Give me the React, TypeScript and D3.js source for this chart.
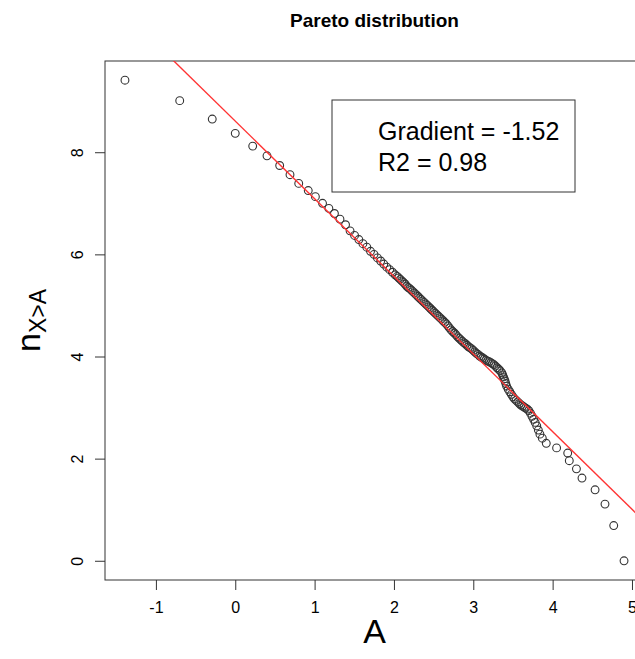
import React, { useEffect, useRef } from 'react';
import * as d3 from 'd3';

// log(A) and log(number of X > A)
const lnA = [
  -1.39, -0.7, -0.29, 0.0, 0.22, 0.4, 0.56, 0.69, 0.8, 0.92, 1.01, 1.1, 1.18, 1.25, 1.32, 1.39,
  1.447, 1.504, 1.558, 1.609, 1.658, 1.705, 1.749, 1.792, 1.833, 1.872, 1.91, 1.946, 1.981, 2.015,
  2.04, 2.06, 2.08, 2.1, 2.12, 2.14, 2.16, 2.18, 2.2, 2.22, 2.24, 2.26, 2.28, 2.3, 2.32, 2.34,
  2.36, 2.38, 2.4, 2.42, 2.44, 2.46, 2.48, 2.5, 2.52, 2.54, 2.56, 2.58, 2.6, 2.62, 2.64, 2.66,
  2.68, 2.7, 2.72, 2.74, 2.76, 2.78, 2.8, 2.82, 2.84, 2.86, 2.88, 2.9, 2.92, 2.94, 2.96, 2.98,
  3.0, 3.02, 3.04, 3.06, 3.08, 3.1, 3.12, 3.14, 3.16, 3.18, 3.2, 3.22, 3.24, 3.26, 3.28, 3.3,
  3.32, 3.34, 3.36, 3.37, 3.38, 3.39, 3.4, 3.41, 3.42, 3.44, 3.46, 3.48, 3.5, 3.52, 3.54, 3.56,
  3.58, 3.6, 3.62, 3.64, 3.66, 3.68, 3.7, 3.72, 3.74, 3.76, 3.78, 3.8, 3.82, 3.84, 3.87, 3.92,
  4.05, 4.19, 4.21, 4.3, 4.37, 4.535, 4.66, 4.77, 4.9,
];
const lnN = [
  9.41, 9.01, 8.65, 8.37, 8.12, 7.93, 7.74, 7.56, 7.39, 7.25, 7.13, 7.0, 6.9, 6.8, 6.69, 6.58,
  6.46, 6.37, 6.29, 6.21, 6.14, 6.06, 6.0, 5.93, 5.87, 5.81, 5.75, 5.7, 5.65, 5.6,
  5.57, 5.54, 5.51, 5.48, 5.45, 5.42, 5.38, 5.35, 5.33, 5.3, 5.27, 5.24, 5.21, 5.18, 5.15, 5.12,
  5.09, 5.06, 5.03, 5.0, 4.97, 4.94, 4.91, 4.88, 4.85, 4.82, 4.79, 4.76, 4.73, 4.7, 4.67, 4.64,
  4.6, 4.56, 4.52, 4.49, 4.46, 4.43, 4.39, 4.36, 4.33, 4.3, 4.27, 4.25, 4.22, 4.19, 4.17, 4.15,
  4.12, 4.09, 4.06, 4.04, 4.01, 3.99, 3.97, 3.95, 3.93, 3.91, 3.9, 3.88, 3.86, 3.84, 3.81, 3.78,
  3.75, 3.72, 3.68, 3.64, 3.6, 3.56, 3.52, 3.47, 3.42, 3.36, 3.31, 3.26, 3.21, 3.17, 3.14, 3.11,
  3.08, 3.05, 3.03, 3.01, 2.99, 2.97, 2.94, 2.89, 2.83, 2.77, 2.71, 2.64, 2.56, 2.48, 2.4, 2.3,
  2.21, 2.11, 1.96, 1.8, 1.62, 1.39, 1.11, 0.69, 0.0,
];

const xTicks = [-1, 0, 1, 2, 3, 4, 5];
const yTicks = [0, 2, 4, 6, 8];

// fitted line
const fitSlope = -1.52;
const fitIntercept = 8.61;
const legendLines = ['Gradient = -1.52', 'R2 = 0.98'];

const width = 635;
const height = 659;
const plot = { left: 105, right: 644, top: 61, bottom: 580 };
const font = '"Liberation Sans", Arial, Helvetica, sans-serif';

// R style axis range: data range plus 4% on each side
const padded = (v: number[]) => {
  const [lo, hi] = d3.extent(v) as [number, number];
  const p = (hi - lo) * 0.04;
  return [lo - p, hi + p];
};

const ParetoPlot = () => {
  const ref = useRef<SVGSVGElement>(null);

  useEffect(() => {
    const svg = d3.select(ref.current);
    svg.selectAll('*').remove();

    const x = d3.scaleLinear().domain(padded(lnA)).range([plot.left, plot.right]);
    const y = d3.scaleLinear().domain(padded(lnN)).range([plot.bottom, plot.top]);

    svg
      .append('defs')
      .append('clipPath')
      .attr('id', 'plot-clip')
      .append('rect')
      .attr('x', plot.left)
      .attr('y', plot.top)
      .attr('width', plot.right - plot.left)
      .attr('height', plot.bottom - plot.top);

    // title
    svg
      .append('text')
      .attr('x', (plot.left + plot.right) / 2)
      .attr('y', 27)
      .attr('text-anchor', 'middle')
      .style('font-family', font)
      .style('font-weight', 'bold')
      .style('font-size', '19px')
      .text('Pareto distribution');

    // x axis (plain hyphen for negatives, like R)
    const xAxis = svg
      .append('g')
      .attr('transform', `translate(0,${plot.bottom})`)
      .call(
        d3
          .axisBottom(x)
          .tickValues(xTicks)
          .tickFormat(d => String(d))
          .tickSize(10)
          .tickPadding(12)
          .tickSizeOuter(0)
      );
    xAxis.select('.domain').remove();
    xAxis.selectAll('line').attr('stroke', '#333');
    xAxis.selectAll('text').style('font-family', font).style('font-size', '16px').attr('fill', '#000');

    // y axis, labels parallel to the axis
    const yAxis = svg
      .append('g')
      .attr('transform', `translate(${plot.left},0)`)
      .call(d3.axisLeft(y).tickValues(yTicks).tickFormat(d => String(d)).tickSize(10).tickSizeOuter(0));
    yAxis.select('.domain').remove();
    yAxis.selectAll('line').attr('stroke', '#333');
    yAxis
      .selectAll('text')
      .attr('x', null)
      .attr('dy', null)
      .attr('text-anchor', 'middle')
      .attr('transform', 'translate(-22,0) rotate(-90)')
      .style('font-family', font)
      .style('font-size', '16px')
      .attr('fill', '#000');

    // frame
    svg
      .append('rect')
      .attr('x', plot.left)
      .attr('y', plot.top)
      .attr('width', plot.right - plot.left)
      .attr('height', plot.bottom - plot.top)
      .attr('fill', 'none')
      .attr('stroke', '#333')
      .attr('stroke-width', 1);

    // points
    svg
      .append('g')
      .selectAll('circle')
      .data(lnA.map((a, i) => [a, lnN[i]]))
      .enter()
      .append('circle')
      .attr('cx', d => x(d[0]))
      .attr('cy', d => y(d[1]))
      .attr('r', 3.9)
      .attr('fill', 'none')
      .attr('stroke', '#333')
      .attr('stroke-width', 1.1);

    // fitted line
    const line = d3
      .line<number>()
      .x(d => x(d))
      .y(d => y(fitIntercept + fitSlope * d));
    svg
      .append('path')
      .datum(x.domain())
      .attr('clip-path', 'url(#plot-clip)')
      .attr('d', line)
      .attr('fill', 'none')
      .attr('stroke', '#ff3333')
      .attr('stroke-width', 1.4);

    // legend
    const lg = svg.append('g');
    lg.append('rect')
      .attr('x', 332)
      .attr('y', 100)
      .attr('width', 243)
      .attr('height', 92)
      .attr('fill', '#fff')
      .attr('stroke', '#333');
    lg.selectAll('text')
      .data(legendLines)
      .enter()
      .append('text')
      .attr('x', 378)
      .attr('y', (d, i) => 140 + i * 31)
      .style('font-family', font)
      .style('font-size', '25px')
      .text(d => d);

    // axis titles
    svg
      .append('text')
      .attr('x', (plot.left + plot.right) / 2)
      .attr('y', 643)
      .attr('text-anchor', 'middle')
      .style('font-family', font)
      .style('font-size', '34px')
      .text('A');

    const yl = svg
      .append('text')
      .attr('transform', `translate(40,${(plot.top + plot.bottom) / 2}) rotate(-90)`)
      .attr('text-anchor', 'middle')
      .style('font-family', font);
    yl.append('tspan').style('font-size', '34px').text('n');
    yl.append('tspan').style('font-size', '23px').attr('dy', 6).text('X>A');
  }, []);

  return (
    <svg
      ref={ref}
      width={width}
      height={height}
      style={{ position: 'absolute', left: 0, top: 0, background: '#fff' }}
    />
  );
};

export default function App() {
  return <ParetoPlot />;
}
